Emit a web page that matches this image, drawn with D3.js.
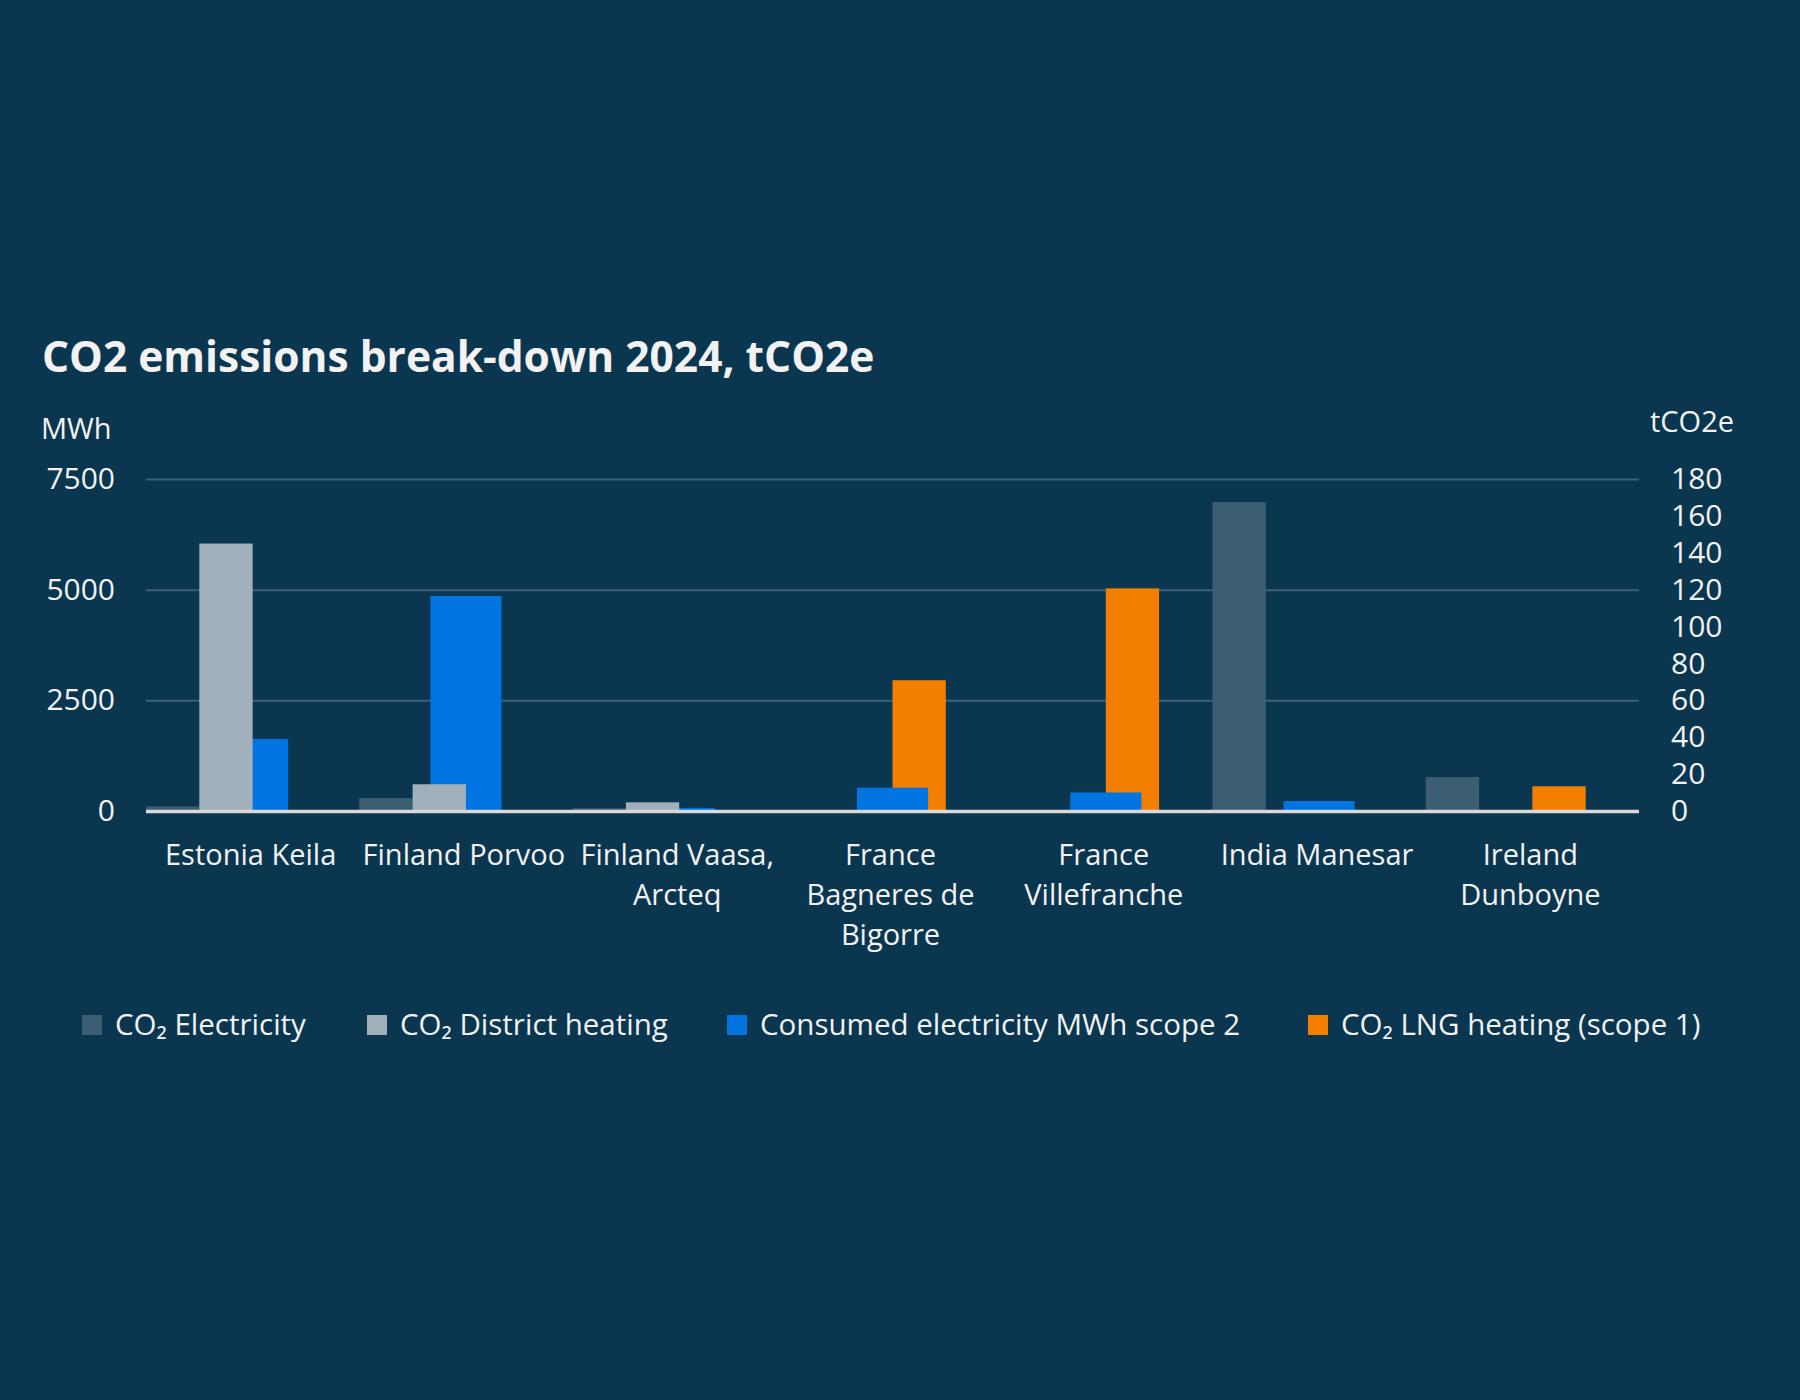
<!DOCTYPE html>
<html>
<head>
<meta charset="utf-8">
<script src="https://cdn.jsdelivr.net/npm/d3@7"></script>
<style>
  html, body { margin: 0; padding: 0; background: #0a3650; }
  svg { display: block; }
  text { font-family: "Open Sans", "Noto Sans", sans-serif; fill: #f2f2f2; }
</style>
</head>
<body>
<div id="chart"></div>
<script>
// sites (x categories), label lines as they wrap under the axis
const categories = ["Estonia Keila", "Finland Porvoo", "Finland Vaasa, Arcteq",
  "France Bagneres de Bigorre", "France Villefranche", "India Manesar", "Ireland Dunboyne"];
const categoryLines = [["Estonia Keila"], ["Finland Porvoo"], ["Finland Vaasa,", "Arcteq"],
  ["France", "Bagneres de", "Bigorre"], ["France", "Villefranche"], ["India Manesar"], ["Ireland", "Dunboyne"]];

// tCO2e, right axis
const co2Electricity = [2.5, 7, 1.5, 0, 0, 167.5, 18.4];
const co2District    = [145, 14.5, 4.7, 0, 0, 0, 0];
const co2Lng         = [0, 0, 0, 70.9, 120.7, 0, 13.4];
// MWh, left axis
const consumedMWh    = [1627, 4857, 70, 527, 418, 226, 0];

const leftTicks  = [0, 2500, 5000, 7500];
const rightTicks = [0, 20, 40, 60, 80, 100, 120, 140, 160, 180];

const seriesNames = ["CO₂ Electricity", "CO₂ District heating",
  "Consumed electricity MWh scope 2", "CO₂ LNG heating (scope 1)"];
const colors = {
  "CO₂ Electricity": "#3c5e73",
  "CO₂ District heating": "#a1b1bc",
  "Consumed electricity MWh scope 2": "#0074e0",
  "CO₂ LNG heating (scope 1)": "#f27f00"
};

const width = 1800, height = 1400;
const plot = {left: 146, right: 1639, top: 479, bottom: 811};

const svg = d3.select("#chart").append("svg")
  .attr("width", width).attr("height", height);
svg.append("rect").attr("width", width).attr("height", height).attr("fill", "#0a3650");

// title + axis units
svg.append("text").attr("x", 42).attr("y", 372)
  .attr("font-size", 42.5).attr("font-weight", 700).attr("fill", "#ffffff")
  .text("CO2 emissions break-down 2024, tCO2e");
svg.append("text").attr("x", 41).attr("y", 439).attr("font-size", 29).text("MWh");
svg.append("text").attr("x", 1650).attr("y", 432).attr("font-size", 29).text("tCO2e");

const x0 = d3.scaleBand().domain(categories).range([plot.left, plot.right]);
// secondary series share 4 slots per site, LNG in the third, last left empty
const xSec = d3.scaleBand().domain(["elec", "district", "lng", "empty"]).range([0, x0.bandwidth()]);
const yL = d3.scaleLinear().domain([0, 7500]).range([plot.bottom, plot.top]);
const yR = d3.scaleLinear().domain([0, 180]).range([plot.bottom, plot.top]);

// gridlines
svg.append("g")
  .attr("transform", `translate(${plot.left},0)`)
  .call(d3.axisLeft(yL).tickValues(leftTicks.slice(1)).tickSize(-(plot.right - plot.left)).tickFormat(""))
  .call(g => g.select(".domain").remove())
  .call(g => g.selectAll("line").attr("stroke", "#3d6179").attr("stroke-width", 2));

// left axis labels
svg.append("g")
  .attr("transform", `translate(${plot.left},0)`)
  .call(d3.axisLeft(yL).tickValues(leftTicks).tickSize(0).tickPadding(31).tickFormat(d3.format("d")))
  .call(g => g.select(".domain").remove())
  .call(g => g.selectAll("text").attr("font-size", 30).attr("fill", "#f2f2f2")
    .attr("font-family", "'Open Sans', sans-serif"));

// right axis labels
svg.append("g")
  .attr("transform", `translate(${plot.right},0)`)
  .call(d3.axisRight(yR).tickValues(rightTicks).tickSize(0).tickPadding(32).tickFormat(d3.format("d")))
  .call(g => g.select(".domain").remove())
  .call(g => g.selectAll("text").attr("font-size", 30).attr("fill", "#f2f2f2")
    .attr("font-family", "'Open Sans', sans-serif"));

const bars = svg.append("g");

// LNG first, the blue MWh bars sit over it, grey CO2 bars over the blue
bars.selectAll(".lng").data(categories).join("rect")
  .attr("x", (c) => x0(c) + xSec("lng"))
  .attr("width", xSec.bandwidth())
  .attr("y", (c, i) => yR(co2Lng[i]))
  .attr("height", (c, i) => yR(0) - yR(co2Lng[i]))
  .attr("fill", colors["CO₂ LNG heating (scope 1)"]);

bars.selectAll(".mwh").data(categories).join("rect")
  .attr("x", (c) => x0(c) + x0.bandwidth() / 3)
  .attr("width", x0.bandwidth() / 3)
  .attr("y", (c, i) => yL(consumedMWh[i]))
  .attr("height", (c, i) => yL(0) - yL(consumedMWh[i]))
  .attr("fill", colors["Consumed electricity MWh scope 2"]);

bars.selectAll(".elec").data(categories).join("rect")
  .attr("x", (c) => x0(c) + xSec("elec"))
  .attr("width", xSec.bandwidth())
  .attr("y", (c, i) => yR(co2Electricity[i]))
  .attr("height", (c, i) => yR(0) - yR(co2Electricity[i]))
  .attr("fill", colors["CO₂ Electricity"]);

bars.selectAll(".district").data(categories).join("rect")
  .attr("x", (c) => x0(c) + xSec("district"))
  .attr("width", xSec.bandwidth())
  .attr("y", (c, i) => yR(co2District[i]))
  .attr("height", (c, i) => yR(0) - yR(co2District[i]))
  .attr("fill", colors["CO₂ District heating"]);

// baseline
svg.append("line")
  .attr("x1", plot.left).attr("x2", plot.right)
  .attr("y1", yL(0) + 0.5).attr("y2", yL(0) + 0.5)
  .attr("stroke", "#d9d9d9").attr("stroke-width", 3.5);

// category labels
const cat = svg.append("g").attr("text-anchor", "middle").attr("font-size", 29);
categories.forEach((c, i) => {
  const cx = x0(c) + x0.bandwidth() / 2 - 2;
  const t = cat.append("text").attr("x", cx).attr("y", 865);
  categoryLines[i].forEach((line, j) => {
    t.append("tspan").attr("x", cx).attr("dy", j ? 40 : 0).text(line);
  });
});

// legend
const legendX = [82, 367, 727, 1308];
const legend = svg.append("g").attr("font-size", 29.5);
seriesNames.forEach((s, i) => {
  legend.append("rect").attr("x", legendX[i]).attr("y", 1015).attr("width", 20).attr("height", 20)
    .attr("fill", colors[s]);
  legend.append("text").attr("x", legendX[i] + 33).attr("y", 1035).text(s);
});
</script>
</body>
</html>
